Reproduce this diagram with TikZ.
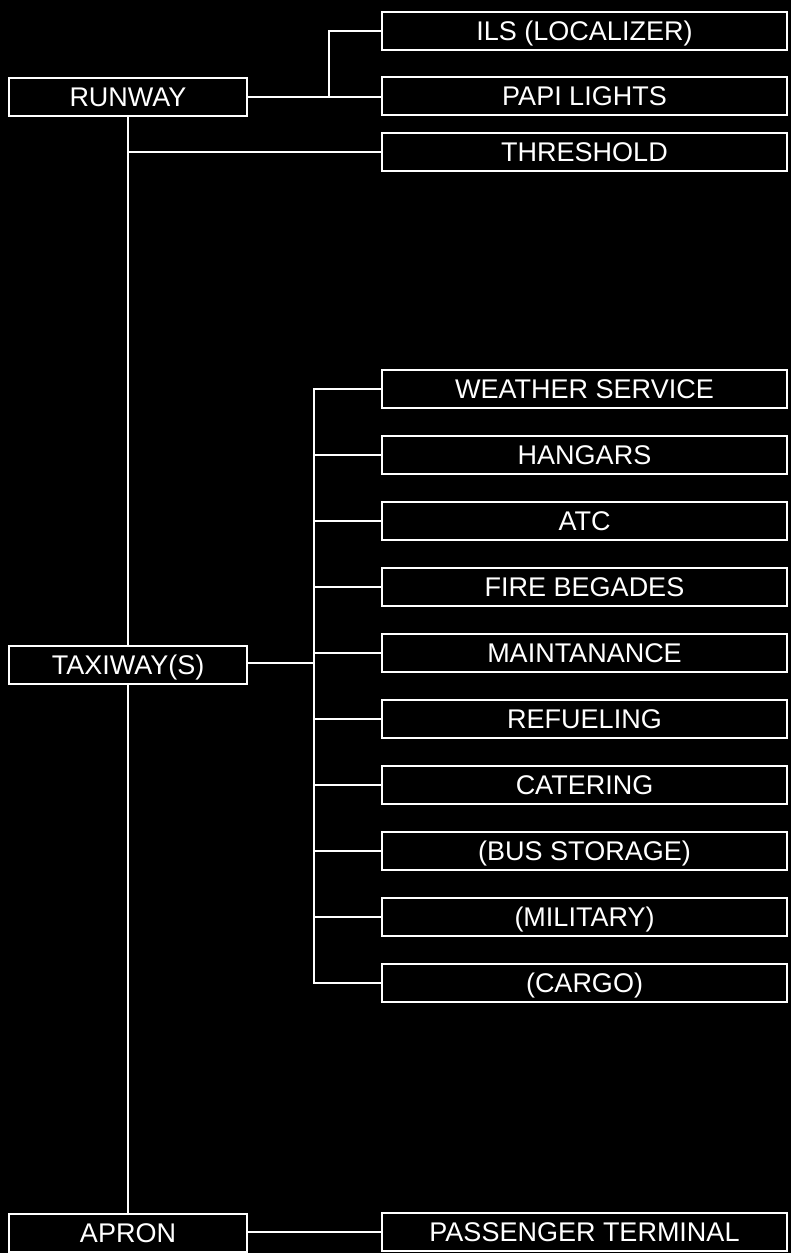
\documentclass[tikz,border=0pt]{standalone}
\usepackage{fontspec}
\setmainfont{Liberation Sans}
\usetikzlibrary{positioning, calc}

\tikzset{
  box/.style={rectangle, draw=white, line width=1.8pt, text=white,
              minimum width=238pt, minimum height=38pt, inner sep=0pt,
              text height=19.5pt, text depth=0pt,
              font=\fontsize{27}{27}\selectfont},
  sub/.style={box, minimum width=405pt},
  link/.style={draw=white, line width=1.8pt}
}

\begin{document}
\begin{tikzpicture}[x=1pt, y=-1pt]
    % --- Fundo ---
    \fill[black] (0,0) rectangle (791,1253);
    \useasboundingbox (0,0) rectangle (791,1253);
    % --- Coluna principal ---
    \node[box] (runway) at (128,97) {RUNWAY};
    \node[box] (taxi)   at (128,665) {TAXIWAY(S)};
    \node[box] (apron)  at (128,1233) {APRON};
    % --- Runway ---
    \node[sub] (ils)    at (584.5,31) {ILS (LOCALIZER)};
    \node[sub] (papi)   at (584.5,96) {PAPI LIGHTS};
    \node[sub] (thresh) at (584.5,152) {THRESHOLD};
    % --- Taxiway(s) ---
    \foreach \n/\t [count=\i from 0] in {weather/WEATHER SERVICE, hangars/HANGARS,
        atc/ATC, fire/FIRE BEGADES, maint/MAINTANANCE, refuel/REFUELING,
        catering/CATERING, bus/(BUS STORAGE), military/(MILITARY), cargo/(CARGO)} {
      \node[sub] (\n) at (584.5,{389+66*\i}) {\t};
    }
    % --- Apron ---
    \node[sub] (pass) at (584.5,1232) {PASSENGER TERMINAL};
    % Conexoes
    \draw[link] (runway.south) -- (taxi.north);
    \draw[link] (taxi.south) -- (apron.north);
    \draw[link] (runway.east) -- (runway.east -| papi.west);
    \coordinate (ilsfork) at ($(runway.east)!0.607!(runway.east -| papi.west)$);
    \draw[link] (ilsfork) |- (ils.west);
    \draw[link] (runway.south |- thresh.west) -- (thresh.west);
    \coordinate (tbus) at ($(taxi.east)+(66,-2)$);
    \draw[link] (taxi.east |- tbus) -- (tbus);
    \draw[link] (weather.west) -| (tbus |- cargo.west) -- (cargo.west);
    \foreach \n in {hangars, atc, fire, maint, refuel, catering, bus, military} {
      \draw[link] (tbus |- \n.west) -- (\n.west);
    }
    \draw[link] (apron.east |- pass.west) -- (pass.west);
\end{tikzpicture}
\end{document}
